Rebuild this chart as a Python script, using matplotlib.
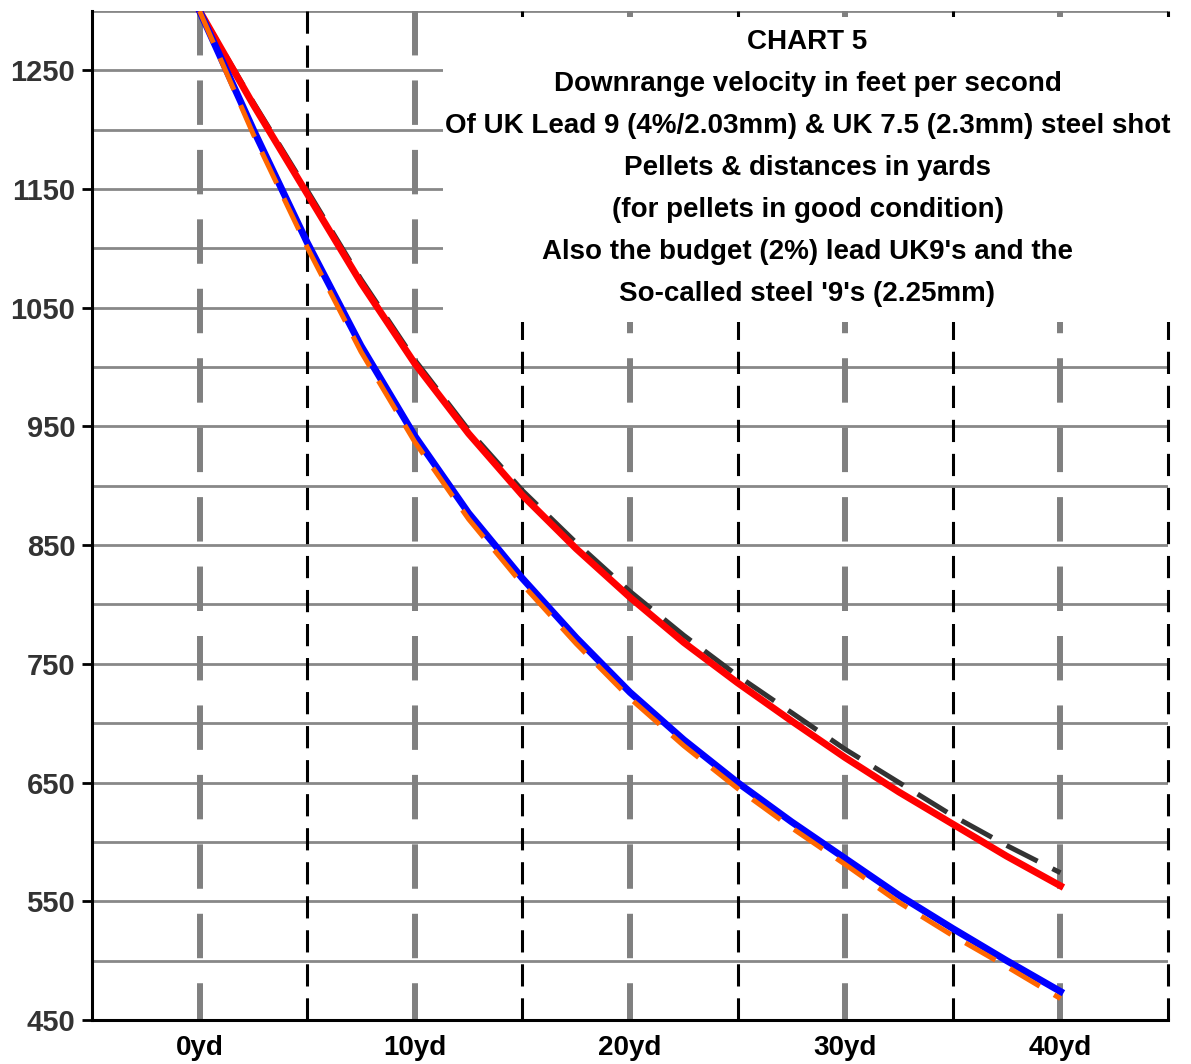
import matplotlib
matplotlib.use("Agg")
import matplotlib.pyplot as plt
from matplotlib.patches import Rectangle

plt.rcParams['lines.scale_dashes'] = False
fam = ['Liberation Sans Narrow', 'Liberation Sans', 'DejaVu Sans']

# yards downrange
yards = [0, 2.5, 5, 7.5, 10, 12.5, 15, 17.5, 20, 22.5, 25, 27.5, 30, 32.5, 35, 37.5, 40]
# velocities, ft/s
red_v = [1300, 1221, 1146, 1071, 1003, 944, 892, 847, 806, 768, 734, 702, 671, 642, 615, 588, 563]
black_v = [1300, 1223, 1149, 1074, 1006, 947, 896, 852, 811, 774, 740, 709, 678, 650, 622, 597, 574]
blue_v = [1300, 1200, 1105, 1018, 942, 877, 822, 772, 726, 686, 650, 617, 586, 555, 527, 500, 474]
orange_v = [1300, 1196, 1101, 1013, 937, 872, 817, 767, 721, 681, 645, 612, 581, 549, 521, 495, 468]

yticks = [450, 550, 650, 750, 850, 950, 1050, 1150, 1250]
xticks = [0, 10, 20, 30, 40]
xlabels = ["0yd", "10yd", "20yd", "30yd", "40yd"]
minor_x = [5, 15, 25, 35, 45]
hgrid = list(range(500, 1301, 50))

title_lines = ["CHART 5",
               "Downrange velocity in feet per second",
               "Of UK Lead 9 (4%/2.03mm) & UK 7.5 (2.3mm) steel shot",
               "Pellets & distances in yards",
               "(for pellets in good condition)",
               "Also the budget (2%) lead UK9's and the",
               "So-called steel '9's (2.25mm)"]

fig = plt.figure(figsize=(11.91, 10.64), dpi=100)
ax = fig.add_axes([0.0772, 0.0414, 0.9035, 0.9483])
ax.set_xlim(-5, 45)
ax.set_ylim(450, 1300)

for h in hgrid:
    ax.axhline(h, color='#888888', lw=2, zorder=1)
for x in xticks:
    ax.plot([x, x], [1300, 450], color='#808080', lw=4.3, dashes=(32, 18), zorder=1.5)
for x in minor_x:
    ax.plot([x, x], [1300, 450], color='black', lw=2.2, dashes=(16, 8.5), zorder=1.5, clip_on=False)

# white box behind the title
ax.add_patch(Rectangle((11.3, 1038), 34.5, 257, facecolor='white', edgecolor='none',
                       zorder=2, clip_on=False))

ax.plot(yards, black_v, color='#333333', lw=3.6, dashes=(25, 12), zorder=3)
ax.plot(yards, red_v, color='#ff0000', lw=5, zorder=4)
ax.plot(yards, blue_v, color='#0000ff', lw=5, zorder=4)
ax.plot(yards, orange_v, color='#ff6600', lw=3.6, dashes=(25, 12), zorder=5)

for s in ['top', 'right']:
    ax.spines[s].set_visible(False)
for s in ['left', 'bottom']:
    ax.spines[s].set_linewidth(2.2)
    ax.spines[s].set_zorder(6)

ax.set_yticks(yticks)
ax.set_yticklabels([str(t) for t in yticks], family=fam, fontweight='bold',
                   fontsize=21, color='#333333')
ax.set_xticks(xticks)
ax.set_xticklabels(xlabels, family=fam, fontweight='bold', fontsize=20, color='black')
ax.tick_params(axis='y', length=7, width=2, pad=5)
ax.tick_params(axis='x', length=0, pad=11)

for i, line in enumerate(title_lines):
    fig.text(0.678, 1 - (42 + 42 * i) / 1064, line, ha='center', va='center',
             family=fam, fontweight='bold', fontsize=20, color='black', zorder=10)

fig.savefig("out.png", dpi=100)
